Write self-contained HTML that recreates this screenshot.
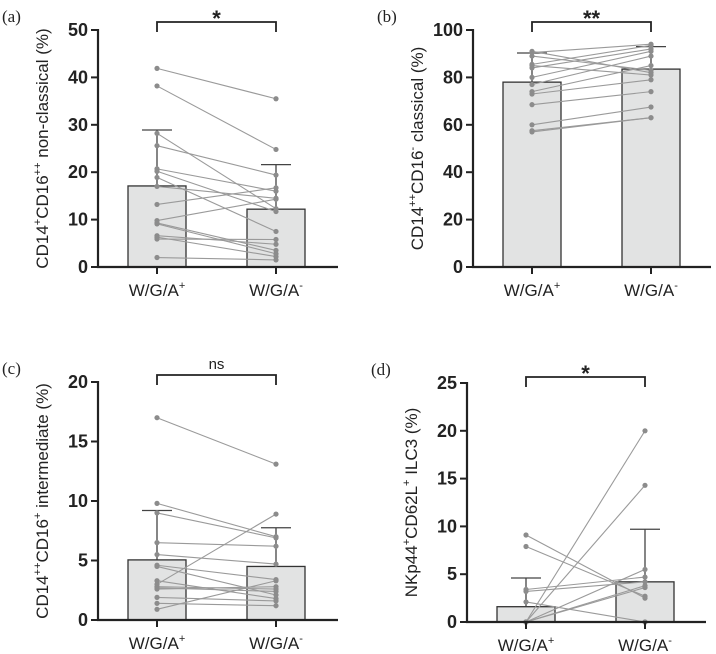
<!DOCTYPE html>
<html><head><meta charset="utf-8"><style>
body{margin:0;background:#fff;}
svg{display:block;}
svg text{font-family:"Liberation Sans",Arial,sans-serif;}
svg text.serif{font-family:"Liberation Serif",serif;}
</style></head><body>
<svg id="c" width="716" height="654" viewBox="0 0 716 654"></svg>
<script>
const NS="http://www.w3.org/2000/svg";
const svg=document.getElementById('c');
const categories=["W/G/A","W/G/A"];
const catSup=["+","-"];
// panel a
const aLeft=[41.9,38.2,28.2,25.6,20.7,20.2,18.9,17.0,13.2,9.8,9.3,9.1,6.6,6.3,5.9,2.0];
const aRight=[35.5,24.8,12.3,19.4,16.0,11.7,7.5,14.5,16.7,14.3,3.5,2.8,4.8,2.2,5.8,1.5];
const aMeans=[17.1,12.2];
const aErr=[28.9,21.6];
const aTicks=[0,10,20,30,40,50];
// panel b
const bLeft=[91,90.5,89,85.5,85,84,80,77,74,73,68.5,60,57.5,57];
const bRight=[82,94,83,93.5,81,92,91,89,85,79,74,67.5,63,63];
const bMeans=[78,83.5];
const bErr=[90.3,93];
const bTicks=[0,20,40,60,80,100];
// panel c
const cLeft=[17,9.8,9.0,6.5,5.5,4.6,4.5,3.3,3.0,2.8,2.7,2.6,1.9,1.4,0.9];
const cRight=[13.1,7.0,6.9,6.2,4.7,3.4,2.1,1.8,8.9,2.6,2.4,2.8,1.6,1.2,3.3];
const cMeans=[5.05,4.5];
const cErr=[9.2,7.75];
const cTicks=[0,5,10,15,20];
// panel d
const dLeft=[9.1,7.9,3.4,3.2,2.1,0,0,0,0,0,0];
const dRight=[2.5,2.7,4.7,4.2,0,20,14.3,5.5,3.6,3.8,0];
const dMeans=[1.6,4.2];
const dErr=[4.6,9.7];
const dTicks=[0,5,10,15,20,25];

function el(tag,attrs,parent){const e=document.createElementNS(NS,tag);for(const k in attrs)e.setAttribute(k,attrs[k]);(parent||svg).appendChild(e);return e;}

function panel(o){
  const g=el('g',{});
  
  
  const max=o.ticks[o.ticks.length-1];
  const y=v=>o.y0-(v/max)*(o.y0-o.yTop);
  const cx=[o.ax+59,o.ax+178];
  o.means.forEach((m,i)=>{
    const b=el('rect',{x:cx[i]-29,y:y(m),width:58,height:o.y0-y(m),fill:'#e2e3e3',stroke:'#333','stroke-width':1.3},g);
    
    
    const e=el('path',{d:`M${cx[i]} ${y(m)}V${y(o.err[i])}M${cx[i]-15} ${y(o.err[i])}H${cx[i]+15}`,stroke:'#444','stroke-width':1.3,fill:'none'},g);
    
    
  });
  o.left.forEach((v,i)=>{
    const l=el('line',{x1:cx[0],y1:y(v),x2:cx[1],y2:y(o.right[i]),stroke:'#9a9a9a','stroke-width':1.1},g);
    
    
    [[cx[0],v],[cx[1],o.right[i]]].forEach(p=>{
      const c=el('circle',{cx:p[0],cy:y(p[1]),r:2.6,fill:'#8c8c8c'},g);
      
      
    });
  });
  const ax=el('path',{d:`M${o.ax} ${o.yTop-1}V${o.y0}H${o.xEnd}`,stroke:'#222','stroke-width':2.2,fill:'none'},g);
  
  
  o.ticks.forEach(t=>{
    el('line',{x1:o.ax-7,x2:o.ax,y1:y(t),y2:y(t),stroke:'#222','stroke-width':2},g);
    const tx=el('text',{x:o.ax-10,y:y(t)+6,'text-anchor':'end','font-size':18,'font-weight':'bold',fill:'#222'},g);
    tx.textContent=t;
    
    
  });
  cx.forEach((x,i)=>{
    el('line',{x1:x,x2:x,y1:o.y0,y2:o.y0+7,stroke:'#222','stroke-width':2},g);
    const tx=el('text',{x:x,y:o.y0+29,'text-anchor':'middle','font-size':17,fill:'#222'},g);
    tx.textContent=categories[i];
    const s=el('tspan',{dy:-7,'font-size':11},tx);s.textContent=catSup[i];
    
    
  });
  const br=el('path',{d:`M${cx[0]} ${o.brY+10}V${o.brY}H${cx[1]}V${o.brY+10}`,stroke:'#222','stroke-width':1.8,fill:'none'},g);
  
  
  const sg=el('text',{x:(cx[0]+cx[1])/2,y:o.brY-(o.sig==='ns'?6:-4),'text-anchor':'middle','font-size':o.sig==='ns'?15:22,'font-weight':o.sig==='ns'?'normal':'bold',fill:'#222'},g);
  sg.textContent=o.sig;
  
  
  const mid=(o.y0+o.yTop)/2;
  const yt=el('text',{x:0,y:0,transform:`translate(${o.ax-50},${mid}) rotate(-90)`,'text-anchor':'middle','font-size':17,fill:'#222'},g);
  o.title.forEach(p=>{
    const a={};
    if(p[1]){a.dy=p[1];}
    a['font-size']=p[2]?11:17;
    const s=el('tspan',a,yt);s.textContent=p[0];
  });
  
  
  const pl=el('text',{x:o.ax-96,y:o.yTop-8,'font-size':17,fill:'#222','class':'serif'},g);
  pl.textContent='('+o.id+')';
  
  
}
panel({id:'a',ax:98,y0:267,yTop:30,xEnd:338,ticks:aTicks,left:aLeft,right:aRight,means:aMeans,err:aErr,brY:22,sig:'*',
  title:[['CD14'],['+',-7,1],['CD16',7],['++',-7,1],[' non-classical (%)',7]]});
panel({id:'b',ax:473,y0:267,yTop:30,xEnd:711,ticks:bTicks,left:bLeft,right:bRight,means:bMeans,err:bErr,brY:22,sig:'**',
  title:[['CD14'],['++',-7,1],['CD16',7],['-',-7,1],[' classical (%)',7]]});
panel({id:'c',ax:98,y0:620,yTop:382,xEnd:338,ticks:cTicks,left:cLeft,right:cRight,means:cMeans,err:cErr,brY:375,sig:'ns',
  title:[['CD14'],['++',-7,1],['CD16',7],['+',-7,1],[' intermediate (%)',7]]});
panel({id:'d',ax:467,y0:622,yTop:383,xEnd:706,ticks:dTicks,left:dLeft,right:dRight,means:dMeans,err:dErr,brY:377,sig:'*',
  title:[['NKp44'],['+',-7,1],['CD62L',7],['+',-7,1],[' ILC3 (%)',7]]});
</script>
</body></html>
